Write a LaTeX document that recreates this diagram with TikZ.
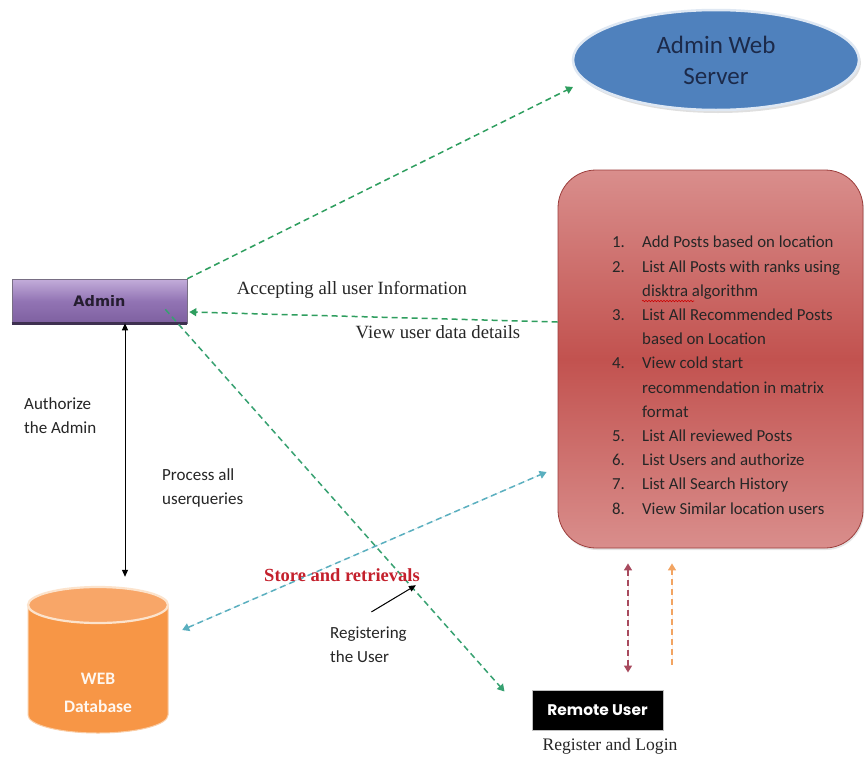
\documentclass[tikz,border=0pt]{standalone}
\usepackage{fontspec}
\setmainfont{Liberation Serif}
\newfontfamily\calib{Carlito}
\newfontfamily\tahob{DejaVu Sans}
\newfontfamily\geom{Poppins}
\usetikzlibrary{arrows.meta,shapes.geometric,shadows,decorations.pathmorphing}

\definecolor{srvblue}{HTML}{4F81BD}
\definecolor{srvtext}{HTML}{1C2A4A}
\definecolor{flowgreen}{HTML}{2E9E5E}
\definecolor{flowteal}{HTML}{5AAFBF}
\definecolor{dbbody}{HTML}{F79646}
\definecolor{dbcap}{HTML}{F8A668}
\definecolor{dbrim}{HTML}{FCE3CC}
\definecolor{redmid}{HTML}{C2524F}
\definecolor{redlight}{HTML}{D98E8C}
\definecolor{redline}{HTML}{9C3E3C}
\definecolor{purtop}{HTML}{C3ADDA}
\definecolor{purmid}{HTML}{9274B4}
\definecolor{purbot}{HTML}{7E60A0}
\definecolor{purdark}{HTML}{3E3050}
\definecolor{maroon}{HTML}{A84A5E}
\definecolor{peach}{HTML}{F2A462}
\definecolor{storered}{HTML}{C4202C}

\tikzset{
  flow/.style={draw=flowgreen, line width=1.5pt, dash pattern=on 6pt off 4pt,
    -{Triangle[length=7pt,width=8pt]}},
  flowboth/.style={line width=1.5pt, dash pattern=on 6pt off 4pt,
    {Triangle[length=7pt,width=8pt]}-{Triangle[length=7pt,width=8pt]}},
  solidboth/.style={line width=1pt, black,
    {Triangle[length=7pt,width=6pt]}-{Triangle[length=7pt,width=6pt]}},
  sanslabel/.style={font=\calib\fontsize{17}{24}\selectfont, align=left, text=black!85, inner sep=0pt},
  seriflabel/.style={font=\fontsize{18.7}{22}\selectfont, text=black!85, inner sep=0pt},
}

\begin{document}
\begin{tikzpicture}[x=1pt,y=-1pt]
\useasboundingbox (0,0) rectangle (865,758);
\fill[white] (0,0) rectangle (865,758);

% admin web server
\node[ellipse, minimum width=286pt, minimum height=100pt, fill=srvblue,
  draw=white!82!srvblue, line width=2.5pt, text=srvtext, align=center,
  font=\calib\fontsize{25}{31}\selectfont,
  drop shadow={shadow xshift=2pt, shadow yshift=-3pt, opacity=0.25}]
  (server) at (716,60) {Admin Web\\Server};

% admin module
\node[rectangle, minimum width=175pt, minimum height=44pt, inner sep=0pt,
  top color=purtop, bottom color=purbot, middle color=purmid,
  draw=purdark!70, line width=0.6pt, text=purdark!60!black,
  font=\tahob\bfseries\fontsize{14.5}{16}\selectfont]
  (admin) at (99.5,301) {Admin};
\draw[purdark, line width=2.5pt] (admin.south west) -- (admin.south east);

% remote user module
\node[rectangle, minimum width=131pt, minimum height=40pt, inner sep=0pt,
  fill=black, draw=black!25, line width=1pt, text=white,
  font=\geom\bfseries\fontsize{15.4}{16}\selectfont]
  (remote) at (597.5,710) {Remote User};
\node[seriflabel, font=\fontsize{17.6}{20}\selectfont] (reglogin) at (610,746) {Register and Login};

% server task list
\node[rectangle, rounded corners=38pt, minimum width=305pt, minimum height=378pt,
  top color=redlight, bottom color=redlight, middle color=redmid,
  draw=redline, line width=0.8pt,
  drop shadow={shadow xshift=1pt, shadow yshift=-2pt, opacity=0.2}]
  (tasks) at (710.5,359) {};
\node[anchor=north west, inner sep=0pt, align=left, text=black!85,
  font=\calib\fontsize{16.8}{24.2}\selectfont]
  (items) at (612,236) {%
  \makebox[30pt][l]{1.}Add Posts based on location\\
  \makebox[30pt][l]{2.}List All Posts with ranks using\\
  \hspace*{30pt}disktra algorithm\\
  \makebox[30pt][l]{3.}List All Recommended Posts\\
  \hspace*{30pt}based on Location\\
  \makebox[30pt][l]{4.}View cold start\\
  \hspace*{30pt}recommendation in matrix\\
  \hspace*{30pt}format\\
  \makebox[30pt][l]{5.}List All reviewed Posts\\
  \makebox[30pt][l]{6.}List Users and authorize\\
  \makebox[30pt][l]{7.}List All Search History\\
  \makebox[30pt][l]{8.}View Similar location users};
% spell-check squiggle under "disktra"
\draw[red!80!black, line width=0.6pt, decorate,
  decoration={snake, amplitude=0.7pt, segment length=3pt}]
  (642,301) -- (694,301);

% web database cylinder
\node[minimum width=140pt, minimum height=146pt, inner sep=0pt] (db) at (98,660) {};
\fill[dbbody] (28,605) -- (28,715)
  arc[start angle=180, end angle=0, x radius=70, y radius=18] -- (168,605) -- cycle;
\draw[dbrim!70!dbbody, line width=1pt] (28,605) -- (28,715)
  arc[start angle=180, end angle=0, x radius=70, y radius=18] -- (168,605);
\filldraw[fill=dbcap, draw=dbrim, line width=2.2pt]
  (98,605) ellipse[x radius=70, y radius=18];
\node[font=\calib\bfseries\fontsize{17.5}{28}\selectfont, text=white!92!dbbody,
  align=center] (dbname) at (98,693) {WEB\\Database};

% free ends of connectors
\coordinate (srvin) at (573,87);

% connectors
\draw[flow] (admin.north east) -- (srvin);
\draw[flow] ([yshift=37pt]tasks.west) -- ([xshift=2pt,yshift=-11pt]admin.east);
\draw[flow, draw=flowgreen!80!flowteal]
  ([xshift=-22pt,yshift=14pt]admin.south east) -- ([xshift=-27pt,yshift=-2pt]remote.north west);
\draw[solidboth] ([xshift=25.5pt]admin.south) -- ([xshift=27pt,yshift=10pt]db.north);
\draw[flowboth, draw=flowteal, fill=flowteal]
  ([xshift=14pt,yshift=30pt]db.east) -- ([xshift=-11pt,yshift=-113pt]tasks.west);
\draw[flowboth, draw=maroon, fill=maroon]
  ([xshift=-82.5pt,yshift=-15pt]tasks.south) -- ([xshift=30.5pt,yshift=17pt]remote.north);
\draw[line width=1.5pt, dash pattern=on 6pt off 4pt, draw=peach, fill=peach,
  -{Triangle[length=7pt,width=8pt]}]
  ([xshift=74.5pt,yshift=25pt]remote.north) -- ([xshift=-38.5pt,yshift=-15pt]tasks.south);

% labels
\node[seriflabel] (accept) at (352,290) {Accepting all user Information};
\node[seriflabel] (viewdata) at (438,332) {View user data details};
\node[sanslabel, anchor=west] (authadm) at (24,416) {Authorize\\the Admin};
\node[sanslabel, anchor=west] (process) at (162,488) {Process all\\userqueries};
\node[font=\bfseries\fontsize{18.5}{22}\selectfont, text=storered, inner sep=0pt]
  (store) at (342,575) {Store and retrievals};
\node[sanslabel, anchor=west] (reguser) at (330,645) {Registering\\the User};
\draw[black, line width=1pt, -{Triangle[length=7pt,width=6pt]}]
  ([xshift=3pt,yshift=15pt]reguser.north) -- ([xshift=-4pt,yshift=-3.5pt]store.south east);
\end{tikzpicture}
\end{document}
